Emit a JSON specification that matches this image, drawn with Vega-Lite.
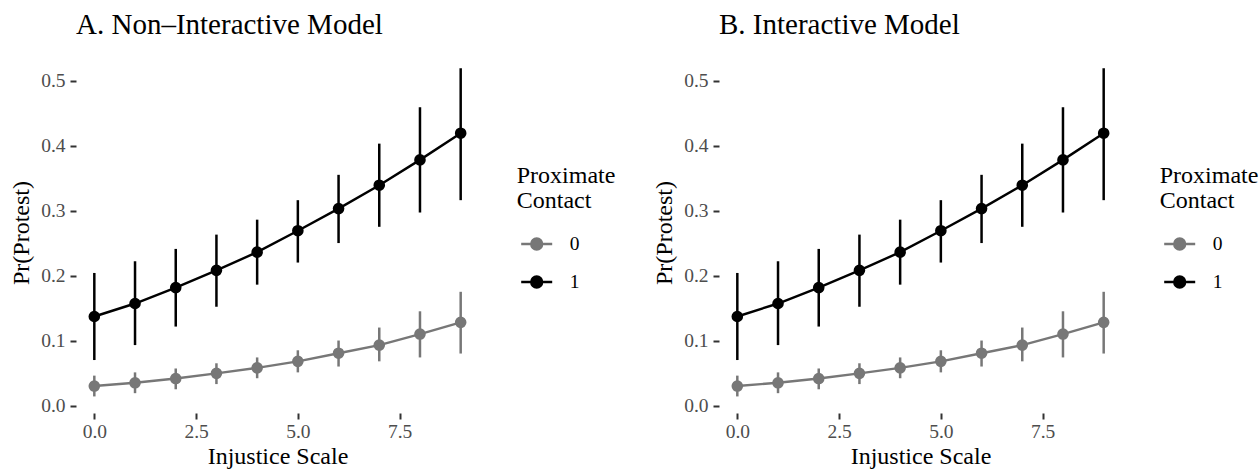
{
  "$schema": "https://vega.github.io/schema/vega-lite/v6.json",
  "padding": {"left": 9, "top": 11, "right": 0, "bottom": 0},
  "background": "white",
  "datasets": {
    "pred": [
      {"model": "A", "contact": "1", "x": 0, "p": 0.137, "lo": 0.070, "hi": 0.204},
      {"model": "A", "contact": "1", "x": 1, "p": 0.157, "lo": 0.093, "hi": 0.222},
      {"model": "A", "contact": "1", "x": 2, "p": 0.1815, "lo": 0.1215, "hi": 0.241},
      {"model": "A", "contact": "1", "x": 3, "p": 0.208, "lo": 0.152, "hi": 0.263},
      {"model": "A", "contact": "1", "x": 4, "p": 0.236, "lo": 0.186, "hi": 0.286},
      {"model": "A", "contact": "1", "x": 5, "p": 0.269, "lo": 0.220, "hi": 0.316},
      {"model": "A", "contact": "1", "x": 6, "p": 0.303, "lo": 0.250, "hi": 0.355},
      {"model": "A", "contact": "1", "x": 7, "p": 0.339, "lo": 0.275, "hi": 0.403},
      {"model": "A", "contact": "1", "x": 8, "p": 0.378, "lo": 0.297, "hi": 0.459},
      {"model": "A", "contact": "1", "x": 9, "p": 0.419, "lo": 0.316, "hi": 0.519},
      {"model": "A", "contact": "0", "x": 0, "p": 0.030, "lo": 0.014, "hi": 0.046},
      {"model": "A", "contact": "0", "x": 1, "p": 0.035, "lo": 0.019, "hi": 0.051},
      {"model": "A", "contact": "0", "x": 2, "p": 0.0415, "lo": 0.025, "hi": 0.057},
      {"model": "A", "contact": "0", "x": 3, "p": 0.0495, "lo": 0.033, "hi": 0.065},
      {"model": "A", "contact": "0", "x": 4, "p": 0.058, "lo": 0.042, "hi": 0.074},
      {"model": "A", "contact": "0", "x": 5, "p": 0.068, "lo": 0.051, "hi": 0.085},
      {"model": "A", "contact": "0", "x": 6, "p": 0.0805, "lo": 0.060, "hi": 0.100},
      {"model": "A", "contact": "0", "x": 7, "p": 0.093, "lo": 0.068, "hi": 0.120},
      {"model": "A", "contact": "0", "x": 8, "p": 0.110, "lo": 0.074, "hi": 0.145},
      {"model": "A", "contact": "0", "x": 9, "p": 0.128, "lo": 0.080, "hi": 0.175},
      {"model": "B", "contact": "1", "x": 0, "p": 0.137, "lo": 0.070, "hi": 0.204},
      {"model": "B", "contact": "1", "x": 1, "p": 0.157, "lo": 0.093, "hi": 0.222},
      {"model": "B", "contact": "1", "x": 2, "p": 0.1815, "lo": 0.1215, "hi": 0.241},
      {"model": "B", "contact": "1", "x": 3, "p": 0.208, "lo": 0.152, "hi": 0.263},
      {"model": "B", "contact": "1", "x": 4, "p": 0.236, "lo": 0.186, "hi": 0.286},
      {"model": "B", "contact": "1", "x": 5, "p": 0.269, "lo": 0.220, "hi": 0.316},
      {"model": "B", "contact": "1", "x": 6, "p": 0.303, "lo": 0.250, "hi": 0.355},
      {"model": "B", "contact": "1", "x": 7, "p": 0.339, "lo": 0.275, "hi": 0.403},
      {"model": "B", "contact": "1", "x": 8, "p": 0.378, "lo": 0.297, "hi": 0.459},
      {"model": "B", "contact": "1", "x": 9, "p": 0.419, "lo": 0.316, "hi": 0.519},
      {"model": "B", "contact": "0", "x": 0, "p": 0.030, "lo": 0.014, "hi": 0.046},
      {"model": "B", "contact": "0", "x": 1, "p": 0.035, "lo": 0.019, "hi": 0.051},
      {"model": "B", "contact": "0", "x": 2, "p": 0.0415, "lo": 0.025, "hi": 0.057},
      {"model": "B", "contact": "0", "x": 3, "p": 0.0495, "lo": 0.033, "hi": 0.065},
      {"model": "B", "contact": "0", "x": 4, "p": 0.058, "lo": 0.042, "hi": 0.074},
      {"model": "B", "contact": "0", "x": 5, "p": 0.068, "lo": 0.051, "hi": 0.085},
      {"model": "B", "contact": "0", "x": 6, "p": 0.0805, "lo": 0.060, "hi": 0.100},
      {"model": "B", "contact": "0", "x": 7, "p": 0.093, "lo": 0.068, "hi": 0.120},
      {"model": "B", "contact": "0", "x": 8, "p": 0.110, "lo": 0.074, "hi": 0.145},
      {"model": "B", "contact": "0", "x": 9, "p": 0.128, "lo": 0.080, "hi": 0.175}
    ]
  },
  "spacing": 36,
  "resolve": {"legend": {"color": "independent"}},
  "hconcat": [
    {
      "width": 403,
      "height": 361,
      "data": {"name": "pred"},
      "transform": [{"filter": "datum.model === 'A'"}],
      "title": {"text": "A. Non–Interactive Model", "anchor": "start", "frame": "group", "baseline": "alphabetic", "offset": -11, "fontSize": 29, "fontWeight": "normal", "font": "Liberation Serif", "color": "black"},
      "encoding": {
        "x": {"field": "x", "type": "quantitative", "scale": {"domain": [-0.45, 9.45], "nice": false, "zero": false},
          "axis": {"values": [0, 2.5, 5, 7.5], "format": ".1f", "title": "Injustice Scale", "grid": false, "domain": false, "labelFont": "Liberation Serif", "labelFontSize": 19.5, "labelColor": "#4d4d4d", "labelPadding": 3, "tickColor": "#333333", "tickSize": 6, "tickWidth": 2, "titleFont": "Liberation Serif", "titleFontSize": 24, "titleFontWeight": "normal", "titleColor": "black", "titlePadding": 4}},
        "color": {"field": "contact", "type": "nominal", "scale": {"domain": ["0", "1"], "range": ["#777777", "#000000"]},
          "legend": {"orient": "none", "legendX": 440.7, "legendY": 112, "title": ["Proximate", "Contact"], "titleFont": "Liberation Serif", "titleFontSize": 24, "titleFontWeight": "normal", "titleColor": "black", "titleLineHeight": 25, "titlePadding": 14, "labelFont": "Liberation Serif", "labelFontSize": 19.5, "labelColor": "black", "symbolType": "M-1,0H1M0.35,0A0.35,0.35,0,1,1,-0.35,0A0.35,0.35,0,1,1,0.35,0Z", "symbolSize": 961, "symbolStrokeWidth": 2.5, "symbolOffset": 3, "rowPadding": 10, "labelOffset": 16,
            "encode": {"symbols": {"update": {"fill": {"scale": "color", "field": "value"}, "stroke": {"scale": "color", "field": "value"}, "opacity": {"value": 1}}}}}}
      },
      "layer": [
        {"mark": {"type": "rule", "strokeWidth": 2.5}, "encoding": {"y": {"field": "lo", "type": "quantitative", "scale": {"domain": [-0.0115, 0.544], "nice": false, "zero": false},
          "axis": {"values": [0, 0.1, 0.2, 0.3, 0.4, 0.5], "format": ".1f", "title": "Pr(Protest)", "grid": false, "domain": false, "labelFont": "Liberation Serif", "labelFontSize": 19.5, "labelColor": "#4d4d4d", "labelPadding": 5, "tickColor": "#333333", "tickSize": 6, "tickWidth": 2, "titleFont": "Liberation Serif", "titleFontSize": 24, "titleFontWeight": "normal", "titleColor": "black", "titlePadding": 7}}, "y2": {"field": "hi"}}},
        {"mark": {"type": "line", "strokeWidth": 2.4}, "encoding": {"y": {"field": "p", "type": "quantitative"}}},
        {"mark": {"type": "point", "filled": true, "size": 135, "opacity": 1}, "encoding": {"y": {"field": "p", "type": "quantitative"}}}
      ]
    },
    {
      "width": 403,
      "height": 361,
      "data": {"name": "pred"},
      "transform": [{"filter": "datum.model === 'B'"}],
      "title": {"text": "B. Interactive Model", "anchor": "start", "frame": "group", "baseline": "alphabetic", "offset": -11, "fontSize": 29, "fontWeight": "normal", "font": "Liberation Serif", "color": "black"},
      "encoding": {
        "x": {"field": "x", "type": "quantitative", "scale": {"domain": [-0.45, 9.45], "nice": false, "zero": false},
          "axis": {"values": [0, 2.5, 5, 7.5], "format": ".1f", "title": "Injustice Scale", "grid": false, "domain": false, "labelFont": "Liberation Serif", "labelFontSize": 19.5, "labelColor": "#4d4d4d", "labelPadding": 3, "tickColor": "#333333", "tickSize": 6, "tickWidth": 2, "titleFont": "Liberation Serif", "titleFontSize": 24, "titleFontWeight": "normal", "titleColor": "black", "titlePadding": 4}},
        "color": {"field": "contact", "type": "nominal", "scale": {"domain": ["0", "1"], "range": ["#777777", "#000000"]},
          "legend": {"orient": "none", "legendX": 440.7, "legendY": 112, "title": ["Proximate", "Contact"], "titleFont": "Liberation Serif", "titleFontSize": 24, "titleFontWeight": "normal", "titleColor": "black", "titleLineHeight": 25, "titlePadding": 14, "labelFont": "Liberation Serif", "labelFontSize": 19.5, "labelColor": "black", "symbolType": "M-1,0H1M0.35,0A0.35,0.35,0,1,1,-0.35,0A0.35,0.35,0,1,1,0.35,0Z", "symbolSize": 961, "symbolStrokeWidth": 2.5, "symbolOffset": 3, "rowPadding": 10, "labelOffset": 16,
            "encode": {"symbols": {"update": {"fill": {"scale": "color", "field": "value"}, "stroke": {"scale": "color", "field": "value"}, "opacity": {"value": 1}}}}}}
      },
      "layer": [
        {"mark": {"type": "rule", "strokeWidth": 2.5}, "encoding": {"y": {"field": "lo", "type": "quantitative", "scale": {"domain": [-0.0115, 0.544], "nice": false, "zero": false},
          "axis": {"values": [0, 0.1, 0.2, 0.3, 0.4, 0.5], "format": ".1f", "title": "Pr(Protest)", "grid": false, "domain": false, "labelFont": "Liberation Serif", "labelFontSize": 19.5, "labelColor": "#4d4d4d", "labelPadding": 5, "tickColor": "#333333", "tickSize": 6, "tickWidth": 2, "titleFont": "Liberation Serif", "titleFontSize": 24, "titleFontWeight": "normal", "titleColor": "black", "titlePadding": 7}}, "y2": {"field": "hi"}}},
        {"mark": {"type": "line", "strokeWidth": 2.4}, "encoding": {"y": {"field": "p", "type": "quantitative"}}},
        {"mark": {"type": "point", "filled": true, "size": 135, "opacity": 1}, "encoding": {"y": {"field": "p", "type": "quantitative"}}}
      ]
    }
  ],
  "config": {
    "font": "Liberation Serif",
    "view": {"stroke": null},
    "axis": {"grid": false, "domain": false},
    "style": {"guide-label": {"font": "Liberation Serif"}, "guide-title": {"font": "Liberation Serif"}}
  }
}
